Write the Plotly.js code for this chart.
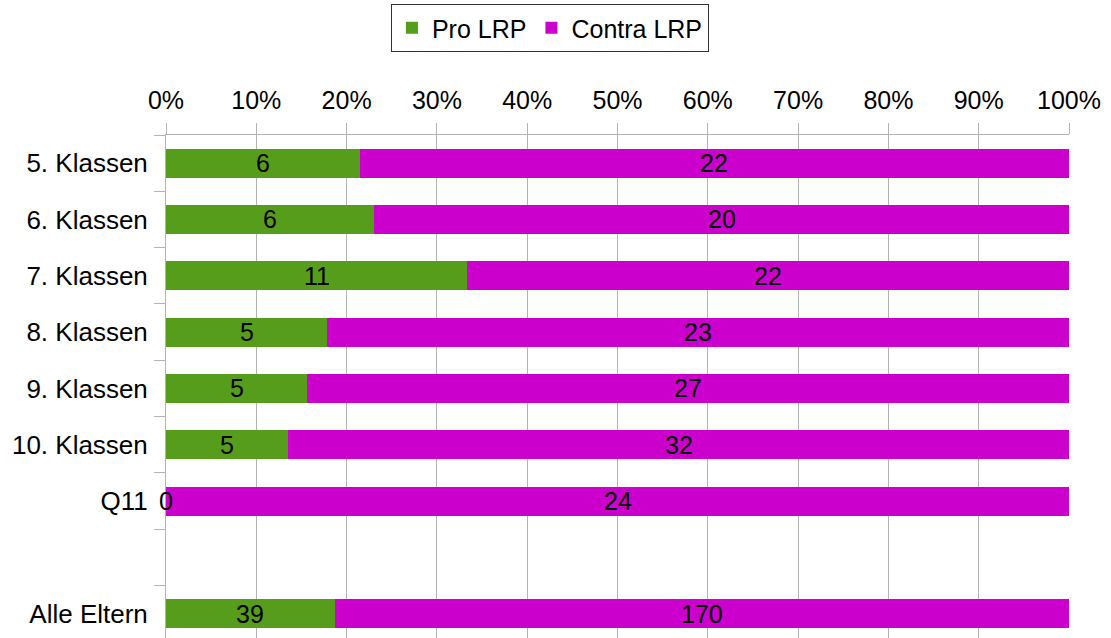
<!DOCTYPE html>
<html>
<head>
<meta charset="utf-8">
<script src="https://cdn.plot.ly/plotly-3.0.1.min.js"></script>
<style>html,body{margin:0;padding:0;background:#fff;}#chart{width:1111px;height:638px;}</style>
</head>
<body>
<div id="chart"></div>
<script>
var categories = ["5. Klassen", "6. Klassen", "7. Klassen", "8. Klassen", "9. Klassen", "10. Klassen", "Q11", " ", "Alle Eltern"];
var proLRP = [6, 6, 11, 5, 5, 5, 0, null, 39];
var contraLRP = [22, 20, 22, 23, 27, 32, 24, null, 170];
var tickValues = [0, 10, 20, 30, 40, 50, 60, 70, 80, 90, 100];
var tickLabels = ["0%", "10%", "20%", "30%", "40%", "50%", "60%", "70%", "80%", "90%", "100%"];

var font = {family: "'Liberation Sans', Arial, sans-serif", size: 25, color: "#000"};
var yFont = {family: "'Liberation Sans', Arial, sans-serif", size: 26, color: "#000"};

var traces = [
  {
    type: "bar", orientation: "h", name: "Pro LRP",
    y: categories, x: proLRP,
    marker: {color: "#579d1c", line: {width: 0}},
    textposition: "none", width: 0.515, hoverinfo: "none"
  },
  {
    type: "bar", orientation: "h", name: "Contra LRP",
    y: categories, x: contraLRP,
    marker: {color: "#cc00cc", line: {width: 0}},
    textposition: "none", width: 0.515, hoverinfo: "none"
  }
];

// value labels centred in each segment (positions derived from the data through the x axis)
var annotations = [];
categories.forEach(function (c, i) {
  var p = proLRP[i], k = contraLRP[i];
  if (p === null || k === null) return;
  var total = p + k;
  var pPct = p / total * 100;
  annotations.push({x: pPct / 2, y: c, xref: "x", yref: "y", text: String(p),
    showarrow: false, xanchor: "center", yanchor: "middle", font: font});
  annotations.push({x: pPct + (100 - pPct) / 2, y: c, xref: "x", yref: "y", text: String(k),
    showarrow: false, xanchor: "center", yanchor: "middle", font: font});
});

var layout = {
  width: 1111, height: 638,
  margin: {l: 166, r: 42, t: 135, b: 0, pad: 0},
  paper_bgcolor: "#fff", plot_bgcolor: "#fff",
  barmode: "stack", barnorm: "percent",
  showlegend: true,
  legend: {
    orientation: "h", traceorder: "normal", xref: "container", yref: "container",
    x: 0.495, xanchor: "center", y: 1 - 4 / 638, yanchor: "top",
    bordercolor: "#333", borderwidth: 1, font: font,
    itemwidth: 30, tracegroupgap: 0
  },
  xaxis: {
    side: "top", range: [0, 100], tickvals: tickValues, ticktext: tickLabels,
    showgrid: true, gridcolor: "#b3b3b3", gridwidth: 1,
    showline: true, linecolor: "#b3b3b3", linewidth: 1,
    ticks: "outside", ticklen: 11, tickcolor: "#b3b3b3", tickwidth: 1,
    tickfont: font, ticklabelstandoff: 4, zeroline: false, fixedrange: true
  },
  yaxis: {
    type: "category", range: [8.43, -0.5],
    showgrid: false, showline: true, linecolor: "#b3b3b3", linewidth: 1,
    ticks: "outside", tickson: "boundaries", ticklen: 11, tickcolor: "#b3b3b3", tickwidth: 1,
    tickfont: yFont, ticklabelstandoff: 12, zeroline: false, fixedrange: true
  },
  annotations: annotations,
  font: font
};

Plotly.newPlot("chart", traces, layout, {displayModeBar: false, staticPlot: true});
</script>
</body>
</html>
